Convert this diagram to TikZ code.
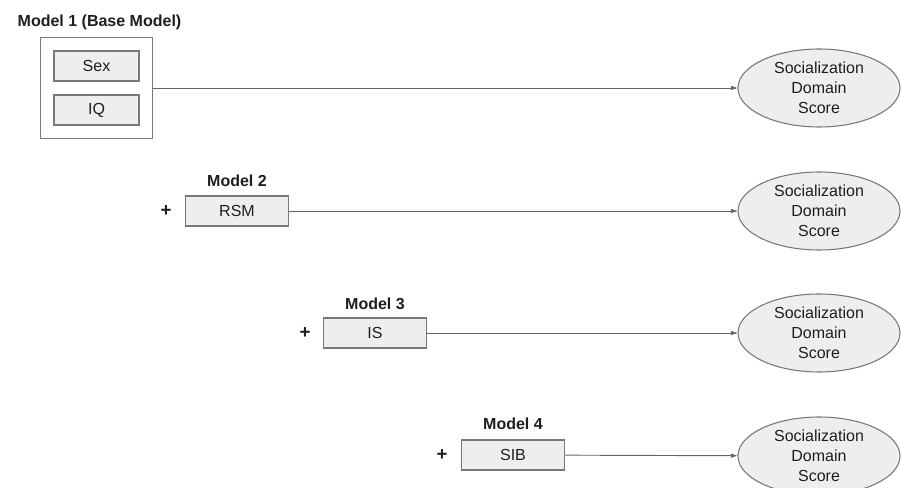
\documentclass[tikz,border=0pt]{standalone}
\usepackage{fontspec}
\setmainfont{Liberation Sans}
\usepackage{tikz}
\usetikzlibrary{shapes,fit,positioning,arrows.meta}
\definecolor{boxfill}{RGB}{238,238,238}
\definecolor{boxline}{RGB}{120,120,120}
\definecolor{arrline}{RGB}{100,100,100}
\definecolor{txt}{RGB}{30,30,30}

\begin{document}
\begin{tikzpicture}[x=0.75pt,y=-0.75pt,
  font=\fontsize{12}{15}\selectfont, text=txt,
  var/.style={draw=boxline, fill=boxfill, line width=0.8pt, minimum width=63.75pt, minimum height=22.5pt, inner sep=0pt},
  pred/.style={var, minimum width=77.25pt},
  outcome/.style={ellipse, draw=boxline, fill=boxfill, line width=0.8pt, minimum width=121.5pt, minimum height=58.5pt, inner sep=0pt, align=center},
  title/.style={font=\fontsize{12}{15}\selectfont\bfseries},
  plus/.style={font=\fontsize{14}{15}\selectfont\bfseries},
  link/.style={draw=arrline, line width=0.7pt, -{Triangle[length=5pt,width=3pt]}}]
\useasboundingbox (0,0) rectangle (901,488);
% model 1
\node[title, anchor=west] (T1) at (13,22) {Model 1 (Base Model)};
\node[var] (Sex) at (96.5,66) {Sex};
\node[var] (IQ) at (96.5,110) {IQ};
\node[draw=boxline, line width=0.8pt, fit=(Sex)(IQ), inner sep=10pt] (M1) {};
\node[outcome] (Y1) at (819,88) {Socialization\\Domain\\Score};
% model 2
\node[title] (T2) at (237,181) {Model 2};
\node[plus] (P2) at (166,211) {+};
\node[pred] (RSM) at (237,211) {RSM};
\node[outcome] (Y2) at (819,211) {Socialization\\Domain\\Score};
% model 3
\node[title] (T3) at (375,304) {Model 3};
\node[plus] (P3) at (305,333) {+};
\node[pred] (IS) at (375,333) {IS};
\node[outcome] (Y3) at (819,333) {Socialization\\Domain\\Score};
% model 4
\node[title] (T4) at (513,424) {Model 4};
\node[plus] (P4) at (442,455) {+};
\node[pred] (SIB) at (513,455) {SIB};
\node[outcome] (Y4) at (819,456) {Socialization\\Domain\\Score};
\path [link] (M1) -- (Y1);
\path [link] (RSM) -- (Y2);
\path [link] (IS) -- (Y3);
\path [link] (SIB) -- (Y4);
\end{tikzpicture}
\end{document}
